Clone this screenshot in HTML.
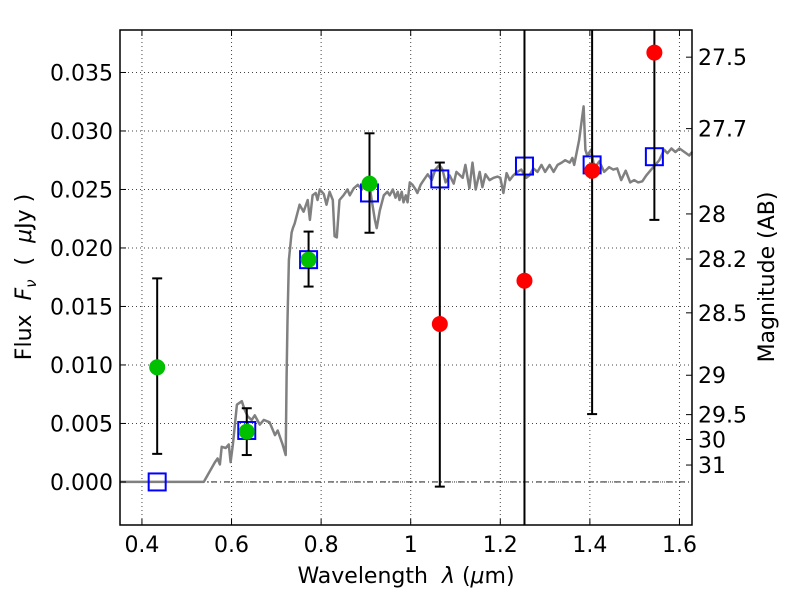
<!DOCTYPE html>
<html><head><meta charset="utf-8"><style>
html,body{margin:0;padding:0;width:800px;height:600px;overflow:hidden;background:#fff}
svg{display:block;font-family:"DejaVu Sans","Liberation Sans",sans-serif}
</style></head><body>
<svg id="chart" width="800" height="600" viewBox="0 0 800 600" xmlns="http://www.w3.org/2000/svg">
<rect width="800" height="600" fill="#fff"/>
<g id="grid"></g>
<g id="spec"></g>
<g id="marks"></g>
<g id="axes"></g>
<text x="0" y="0" transform="translate(31,277) rotate(-90)" text-anchor="middle" font-size="22" xml:space="preserve">Flux  <tspan font-style="italic">F</tspan><tspan font-style="italic" font-size="15" dy="5">ν</tspan><tspan dy="-5">  (  </tspan><tspan font-style="italic">μ</tspan>Jy )</text>
<text x="0" y="0" transform="translate(774,277) rotate(-90)" text-anchor="middle" font-size="22">Magnitude (AB)</text>
<text x="406" y="583" text-anchor="middle" font-size="22" xml:space="preserve">Wavelength  <tspan font-style="italic">λ</tspan> (<tspan font-style="italic">μ</tspan>m)</text>
</svg>
<script>
const xTicks=[0.4,0.6,0.8,1,1.2,1.4,1.6];
const xTickLabels=["0.4","0.6","0.8","1","1.2","1.4","1.6"];
const yTicks=[0,0.005,0.01,0.015,0.02,0.025,0.03,0.035];
const yTickLabels=["0.000","0.005","0.010","0.015","0.020","0.025","0.030","0.035"];
const magTicks=[27.5,27.7,28,28.2,28.5,29,29.5,30,31];
const magTickLabels=["27.5","27.7","28","28.2","28.5","29","29.5","30","31"];
const specWl=[0.351,0.538,0.563,0.569,0.574,0.578,0.587,0.594,0.598,0.603,0.612,0.623,0.629,0.636,0.645,0.652,0.663,0.672,0.685,0.697,0.703,0.714,0.721,0.723,0.725,0.728,0.734,0.737,0.741,0.752,0.761,0.770,0.775,0.781,0.788,0.792,0.797,0.806,0.812,0.819,0.826,0.830,0.835,0.841,0.850,0.859,0.864,0.873,0.882,0.891,0.897,0.908,0.913,0.920,0.924,0.931,0.940,0.948,0.953,0.960,0.966,0.971,0.975,0.980,0.984,0.989,0.993,0.998,1.004,1.011,1.015,1.022,1.029,1.038,1.047,1.055,1.064,1.071,1.078,1.087,1.096,1.102,1.116,1.122,1.131,1.138,1.145,1.154,1.160,1.167,1.176,1.185,1.194,1.200,1.207,1.214,1.221,1.229,1.238,1.247,1.258,1.265,1.274,1.283,1.292,1.300,1.310,1.319,1.328,1.337,1.345,1.355,1.361,1.365,1.376,1.386,1.390,1.394,1.403,1.410,1.421,1.432,1.443,1.452,1.461,1.470,1.480,1.490,1.499,1.508,1.517,1.526,1.537,1.546,1.555,1.566,1.573,1.582,1.591,1.600,1.611,1.622,1.628];
const specFlux=[0,0,0.0017,0.002,0.0015,0.003,0.0029,0.0032,0.0017,0.0032,0.0066,0.0069,0.0062,0.0056,0.0053,0.0057,0.0049,0.0053,0.0051,0.004,0.0044,0.0032,0.0023,0.009,0.0138,0.019,0.0213,0.0217,0.0221,0.0237,0.0231,0.0241,0.0224,0.0245,0.0247,0.0241,0.025,0.0246,0.0237,0.0248,0.0241,0.021,0.0209,0.0241,0.0245,0.025,0.0245,0.0251,0.0254,0.025,0.0256,0.0254,0.0241,0.0224,0.0217,0.0232,0.0245,0.0248,0.0245,0.025,0.0243,0.0248,0.0241,0.0248,0.0239,0.0245,0.0239,0.0256,0.0254,0.025,0.0247,0.0254,0.0258,0.0263,0.0258,0.0267,0.0271,0.0267,0.0256,0.0262,0.0255,0.0265,0.026,0.0271,0.0251,0.0273,0.025,0.0265,0.0252,0.0263,0.0258,0.026,0.0261,0.026,0.0247,0.0264,0.0258,0.0262,0.0265,0.0267,0.026,0.0262,0.0268,0.0265,0.0271,0.0265,0.0271,0.0265,0.0271,0.0273,0.0275,0.0273,0.0277,0.0271,0.0292,0.0321,0.0284,0.0279,0.0284,0.0268,0.0274,0.0265,0.0269,0.0267,0.0268,0.0258,0.0266,0.0256,0.0258,0.0256,0.0257,0.0262,0.0267,0.0271,0.0275,0.0284,0.0281,0.0285,0.0282,0.0285,0.0282,0.0279,0.0282];
const modelWl=[0.434,0.634,0.772,0.908,1.065,1.254,1.405,1.544];
const modelFlux=[0,0.0044,0.019,0.0247,0.0259,0.027,0.0271,0.0278];
const detWl=[0.434,0.634,0.772,0.908];
const detFlux=[0.0098,0.0043,0.019,0.0255];
const detLo=[0.0024,0.0023,0.0167,0.0213];
const detHi=[0.0174,0.0063,0.0214,0.0298];
const ndWl=[1.065,1.254,1.405,1.544];
const ndFlux=[0.0135,0.0172,0.0266,0.0367];
const ndLo=[-0.0004,-0.02,0.0058,0.0224];
const ndHi=[0.0273,0.06,0.06,0.06];

const L=120,R=692,T=30,B=525;
const X0=0.351,X1=1.628,Y0=-0.00368,Y1=0.03863;
const sx=v=>L+(v-X0)/(X1-X0)*(R-L);
const sy=v=>B-(v-Y0)/(Y1-Y0)*(B-T);
const NS="http://www.w3.org/2000/svg";
function mk(tag,attrs,parent){const e=document.createElementNS(NS,tag);for(const k in attrs)e.setAttribute(k,attrs[k]);parent.appendChild(e);return e;}
const grid=document.getElementById('grid'),spec=document.getElementById('spec'),marks=document.getElementById('marks'),axes=document.getElementById('axes');
xTicks.forEach((t,i)=>{
  const x=sx(t);
  const g=mk('line',{x1:x,x2:x,y1:T,y2:B,stroke:'#444','stroke-width':1,'stroke-dasharray':'1,3'},grid);
  
  
  mk('line',{x1:x,x2:x,y1:B,y2:B-6,stroke:'#000'},axes);
  mk('line',{x1:x,x2:x,y1:T,y2:T+6,stroke:'#000'},axes);
  const tx=mk('text',{x:x,y:B+27,'text-anchor':'middle','font-size':22},axes);
  tx.textContent=xTickLabels[i];
  
  
});
yTicks.forEach((t,i)=>{
  const y=sy(t);
  const g=mk('line',{x1:L,x2:R,y1:y,y2:y,stroke:'#444','stroke-width':1,'stroke-dasharray':'1,3'},grid);
  
  
  mk('line',{x1:L,x2:L+6,y1:y,y2:y,stroke:'#000'},axes);
  const tx=mk('text',{x:L-7,y:y+8,'text-anchor':'end','font-size':22},axes);
  tx.textContent=yTickLabels[i];
  
  
});
magTicks.forEach((m,i)=>{
  const f=Math.pow(10,(23.9-m)/2.5);
  const y=sy(f);
  mk('line',{x1:R-6,x2:R,y1:y,y2:y,stroke:'#000'},axes);
  const tx=mk('text',{x:R+6,y:y+8,'font-size':22},axes);
  tx.textContent=magTickLabels[i];
  
  
});
mk('line',{x1:L,x2:R,y1:sy(0),y2:sy(0),stroke:'#000','stroke-width':0.8,'stroke-dasharray':'6,3,1,3'},grid);
const pts=specWl.map((w,i)=>sx(w).toFixed(1)+','+sy(specFlux[i]).toFixed(1)).join(' ');
const pl=mk('polyline',{points:pts,fill:'none',stroke:'#808080','stroke-width':2.5,'stroke-linejoin':'round'},spec);


const clip=mk('clipPath',{id:'pc'},document.getElementById('chart'));
mk('rect',{x:L,y:T,width:R-L,height:B-T},clip);
marks.setAttribute('clip-path','url(#pc)');
function errbar(w,lo,hi){
  const x=sx(w);
  mk('line',{x1:x,x2:x,y1:sy(hi),y2:sy(lo),stroke:'#000','stroke-width':2},marks);
  [lo,hi].forEach(v=>mk('line',{x1:x-5,x2:x+5,y1:sy(v),y2:sy(v),stroke:'#000','stroke-width':2},marks));
}
modelWl.forEach((w,i)=>{
  const s=mk('rect',{x:sx(w)-8.5,y:sy(modelFlux[i])-8.5,width:17,height:17,fill:'none',stroke:'#0000ff','stroke-width':2},marks);
  
  
});
detWl.forEach((w,i)=>{
  errbar(w,detLo[i],detHi[i]);
  const c=mk('circle',{cx:sx(w),cy:sy(detFlux[i]),r:8,fill:'#00c000'},marks);
  
  
});
ndWl.forEach((w,i)=>{
  errbar(w,ndLo[i],ndHi[i]);
  const c=mk('circle',{cx:sx(w),cy:sy(ndFlux[i]),r:8,fill:'#ff0000'},marks);
  
  
});
const fr=mk('rect',{x:L,y:T,width:R-L,height:B-T,fill:'none',stroke:'#000','stroke-width':1.5},axes);


</script>
</body></html>
